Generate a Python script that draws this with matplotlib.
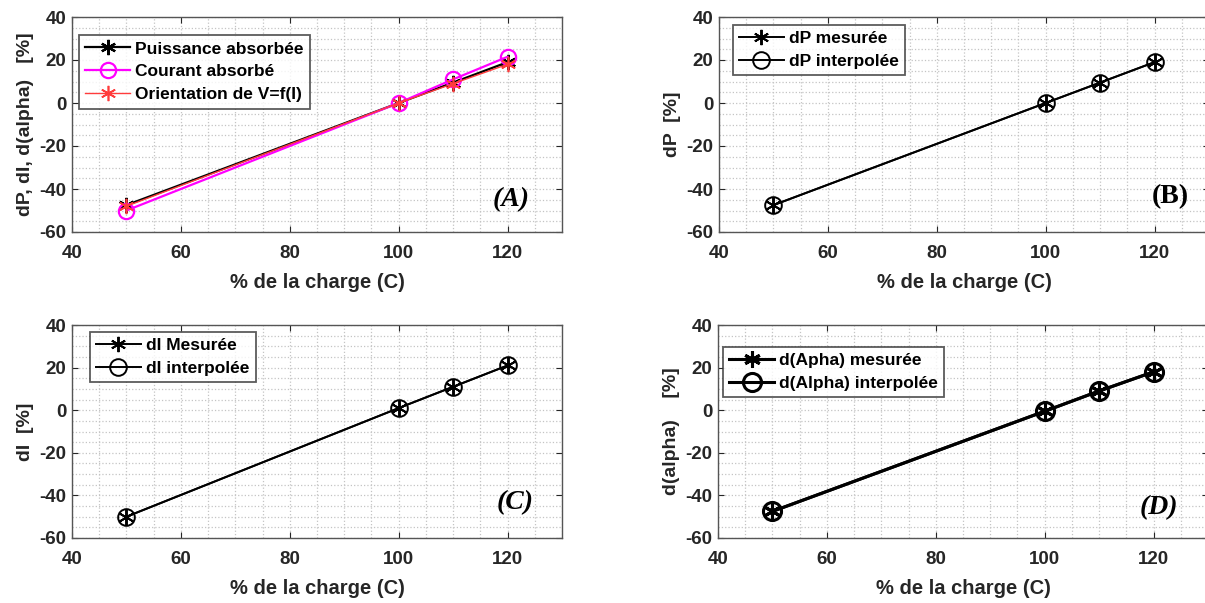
import matplotlib.pyplot as plt
from matplotlib.ticker import MultipleLocator

plt.rcParams['font.family'] = ['Liberation Sans', 'DejaVu Sans']
plt.rcParams['font.weight'] = 'bold'
plt.rcParams['axes.unicode_minus'] = False

# load level (%)
charge = [50, 100, 110, 120]

# panel A
puissance = [-47.5, 0, 9.5, 19]
courant = [-50, 0, 11, 21.5]
orientation = [-48, 0, 9, 18]

# panel B
dp_mes = [-47.5, 0, 9.5, 19]
dp_int = [-47.5, 0, 9.5, 19]

# panel C
di_mes = [-50, 1, 11, 21]
di_int = [-50, 1, 11, 21]

# panel D
da_mes = [-47.5, -0.5, 9, 18]
da_int = [-47.5, -0.5, 9, 18]

W, H = 1205, 603
fig = plt.figure(figsize=(W / 100, H / 100), dpi=100)
STAR = (6, 2, 0)  # asterisk like matlab '*'


def make_ax(left, top, bottom):
    ax = fig.add_axes([left / W, 1 - bottom / H, 490 / W, (bottom - top) / H])
    ax.set_xlim(40, 130)
    ax.set_ylim(-60, 40)
    ax.set_xticks([40, 60, 80, 100, 120])
    ax.set_yticks([-60, -40, -20, 0, 20, 40])
    ax.xaxis.set_minor_locator(MultipleLocator(5))
    ax.yaxis.set_minor_locator(MultipleLocator(5))
    ax.grid(which='both', linestyle=':', color='#c4c4c4', linewidth=0.9)
    ax.tick_params(which='major', direction='in', length=4, top=True, right=True,
                   labelsize=13.5, colors='#262626')
    ax.tick_params(axis='x', pad=9)
    ax.tick_params(axis='y', pad=4)
    ax.tick_params(which='minor', length=0)
    for s in ax.spines.values():
        s.set_color('#555555')
        s.set_linewidth(1.0)
    ax.set_xlabel('% de la charge (C)', fontsize=14.5, fontweight='bold',
                  color='#262626', labelpad=8)
    return ax


def add_legend(ax, x, y):
    leg = ax.legend(loc='upper left', bbox_to_anchor=(x, y), fontsize=12.5, frameon=True,
                    fancybox=False, edgecolor='#333333', handlelength=2.6, borderpad=0.35,
                    labelspacing=0.45, handletextpad=0.3, borderaxespad=0)
    leg.get_frame().set_linewidth(1.3)
    for t in leg.get_texts():
        t.set_fontweight('bold')
    return leg


axA = make_ax(72, 17, 232)
axB = make_ax(719, 17, 232)
axC = make_ax(72, 325, 538)
axD = make_ax(718, 325, 538)

# A
axA.plot(charge, puissance, '-', marker=STAR, color='black', lw=1.6, ms=11, mew=1.6,
         label='Puissance absorbée')
axA.plot(charge, courant, '-o', color='magenta', lw=1.6, ms=11, mfc='none', mew=1.6,
         label='Courant absorbé')
axA.plot(charge, orientation, '-', marker=STAR, color='#ff3b3b', lw=1.0, ms=11, mew=1.2,
         label='Orientation de V=f(I)')
axA.set_ylabel('dP, dI, d(alpha)   [%]', fontsize=14, fontweight='bold', color='#262626')
add_legend(axA, 0.014, 0.915)
axA.text(0.896, 0.15, '(A)', transform=axA.transAxes, fontsize=20, fontweight='bold',
         fontstyle='italic', family='Liberation Serif', ha='center', va='center')

# B
axB.plot(charge, dp_mes, '-', marker=STAR, color='black', lw=1.4, ms=11, mew=1.4,
         label='dP mesurée')
axB.plot(charge, dp_int, '-o', color='black', lw=1.4, ms=12, mfc='none', mew=1.4,
         label='dP interpolée')
axB.set_ylabel('dP  [%]', fontsize=14, fontweight='bold', color='#262626')
add_legend(axB, 0.028, 0.965)
axB.text(0.922, 0.163, '(B)', transform=axB.transAxes, fontsize=20, fontweight='bold',
         family='Liberation Serif', ha='center', va='center')

# C
axC.plot(charge, di_mes, '-', marker=STAR, color='black', lw=1.4, ms=11, mew=1.4,
         label='dI Mesurée')
axC.plot(charge, di_int, '-o', color='black', lw=1.4, ms=12, mfc='none', mew=1.4,
         label='dI interpolée')
axC.set_ylabel('dI  [%]', fontsize=14, fontweight='bold', color='#262626')
add_legend(axC, 0.036, 0.967)
axC.text(0.904, 0.164, '(C)', transform=axC.transAxes, fontsize=20, fontweight='bold',
         fontstyle='italic', family='Liberation Serif', ha='center', va='center')

# D
axD.plot(charge, da_mes, '-', marker=STAR, color='black', lw=2.2, ms=12, mew=2.2,
         label='d(Apha) mesurée')
axD.plot(charge, da_int, '-o', color='black', lw=2.2, ms=13, mfc='none', mew=2.2,
         label='d(Alpha) interpolée')
axD.set_ylabel('d(alpha)    [%]', fontsize=14, fontweight='bold', color='#262626')
add_legend(axD, 0.01, 0.897)
axD.text(0.90, 0.141, '(D)', transform=axD.transAxes, fontsize=20, fontweight='bold',
         fontstyle='italic', family='Liberation Serif', ha='center', va='center')

fig.savefig('out.png', dpi=100)
